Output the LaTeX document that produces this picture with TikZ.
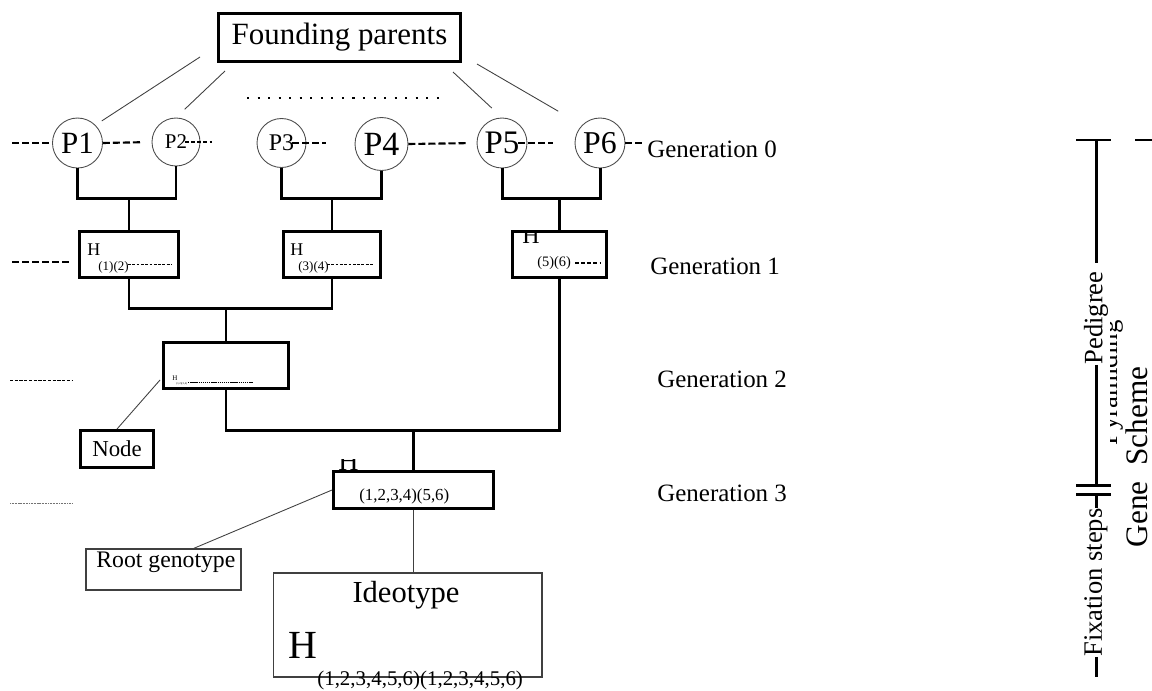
\documentclass[tikz,border=0pt]{standalone}
\usepackage{fontspec}
\setmainfont{Liberation Serif}
\usetikzlibrary{calc}
\newcommand\fsz[1]{\fontsize{#1}{#1}\selectfont}
\begin{document}
\begin{tikzpicture}[x=0.02cm,y=-0.02cm,
  thickline/.style={line width=1.7pt},
  thinline/.style={line width=0.5pt, draw=black!75},
  pcirc/.style={circle, draw=black!70, line width=0.5pt, inner sep=0pt},
  hbox/.style={draw, line width=1.7pt, inner sep=0pt},
  lbox/.style={draw=black!75, line width=0.6pt, inner sep=0pt},
  dashA/.style={line width=1.2pt, dash pattern=on 4pt off 1.7pt},
  dashS/.style={line width=0.9pt, dash pattern=on 2.3pt off 1.2pt},
  dashT/.style={line width=0.5pt, dash pattern=on 1.6pt off 0.85pt},
  dashF/.style={line width=0.5pt, dash pattern=on 1.8pt off 0.9pt},
  dashX/.style={line width=0.3pt, draw=black!55, dash pattern=on 0.6pt off 0.3pt},
  lab/.style={inner sep=0pt, anchor=base west},
  rlab/.style={inner sep=0pt, rotate=90, font=\fsz{15.1pt}},
]
\useasboundingbox (0,0) rectangle (1152,690);

% Founding parents
\node[hbox, minimum width=4.84cm, minimum height=0.96cm, font=\fsz{17.6pt}] (fp) at (339.5,37.5) {Founding parents};

% Generation 0 circles
\node[pcirc, minimum size=1cm, font=\fsz{17.6pt}] (P1) at (77.5,143) {P1};
\node[pcirc, minimum size=0.96cm, font=\fsz{11.9pt}] (P2) at (176,142) {P2};
\node[pcirc, minimum size=0.98cm, font=\fsz{13.6pt}] (P3) at (281.5,143) {P3};
\node[pcirc, minimum size=1.06cm, font=\fsz{19.3pt}] (P4) at (381.5,144) {P4};
\node[pcirc, minimum size=1cm, font=\fsz{18.7pt}] (P5) at (502,143) {P5};
\node[pcirc, minimum size=1cm, font=\fsz{18.1pt}] (P6) at (600,143) {P6};

% lines from founding parents
\coordinate (f1) at (200,57);
\coordinate (f2) at (225,71);
\coordinate (f3) at (453,72);
\coordinate (f4) at (477,64);
\draw[thinline, shorten >=0.15cm] (f1) -- (P1.north east);
\draw[thinline, shorten >=0.24cm] (f2) -- (P2.north);
\draw[thinline, shorten >=0.28cm] (f3) -- (P5.north);
\draw[thinline, shorten >=0.55cm] (f4) -- (P6.north west);
\coordinate (d1) at (247,98);
\coordinate (d2) at (441,98);
\draw[line width=1.2pt, dash pattern=on 1.2pt off 4.8pt] (d1) -- (d2);

% Generation 0 dashes
\draw[dashA] ($(P1.west)+(-40,0)$) -- (P1.west);
\draw[dashA, shorten >=0.18cm] (P1.east) -- (P2.west);
\draw[dashS] ($(P2.center)+(9,0)$) -- ($(P2.center)+(36,0)$);
\draw[dashA] ($(P3.center)+(10.5,0)$) -- ($(P3.center)+(44,0)$);
\draw[dashA, shorten >=0.18cm] (P4.east) -- (P5.west);
\draw[dashA] ($(P5.center)+(16,0)$) -- ($(P5.center)+(51,0)$);
\draw[dashA] (P6.east) -- ($(P6.east)+(17,0)$);
\node[lab, font=\fsz{14.2pt}] (gen0) at (647,157) {Generation 0};

% Generation 1 boxes
\node[hbox, minimum width=1.98cm, minimum height=0.92cm] (g1a) at (129,254.5) {};
\node[hbox, minimum width=1.94cm, minimum height=0.92cm] (g1b) at (332,254.5) {};
\node[hbox, minimum width=1.88cm, minimum height=0.92cm] (g1c) at (559.5,254.5) {};
\node[lab, font=\fsz{10.2pt}] (h1a) at (87,255) {H};
\node[lab, font=\fsz{7.4pt}] (s1a) at (98,270) {(1)(2)};
\draw[dashT] (128,264) -- (172,264);
\node[lab, font=\fsz{10.2pt}] (h1b) at (290,255) {H};
\node[lab, font=\fsz{7.4pt}] (s1b) at (298,270) {(3)(4)};
\draw[dashT] (327,264) -- (373,264);
\begin{scope}
  \clip (515,232) rectangle (545,250);
  \node[lab, font=\fsz{13.6pt}] (h1c) at (522,243) {H};
\end{scope}
\node[lab, font=\fsz{8.2pt}] (s1c) at (537,266) {(5)(6)};
\draw[dashS] (575,263) -- (600,263);
\coordinate (l1a) at (12,262);
\coordinate (l1b) at (72,262);
\draw[dashA] (l1a) -- (l1b);
\node[lab, font=\fsz{14.2pt}] (gen1) at (650,274) {Generation 1};

% brackets gen0 -> gen1
\draw[thickline] (P1.south) |- ($(g1a.north)+(0,-32)$) -| (P2.south);
\draw[thickline] (g1a.north) -- ++(0,-32);
\draw[thickline] (P3.south) |- ($(g1b.north)+(0,-32)$) -| (P4.south);
\draw[thickline] (g1b.north) -- ++(0,-32);
\draw[thickline] (P5.south) |- ($(g1c.north)+(0,-32)$) -| (P6.south);
\draw[thickline] (g1c.north) -- ++(0,-32);

% Generation 2
\node[hbox, minimum width=2.5cm, minimum height=0.92cm] (g2) at (226,365.5) {};
\node[lab, font=\fsz{4pt}] (h2) at (172,380) {H};
\node[lab, font=\fsz{1.6pt}] (s2) at (176,384) {(1,2)(3,4)};
\draw[line width=0.3pt, dash pattern=on 0.8pt off 0.4pt] (188,382) -- (253,382);
\draw[thickline] (g1a.south) |- ($(g2.north)+(0,-33)$) -| (g1b.south);
\draw[thickline] (g2.north) -- ++(0,-33);
\coordinate (l2a) at (10,380);
\coordinate (l2b) at (73,380);
\draw[dashF] (l2a) -- (l2b);
\node[lab, font=\fsz{14.2pt}] (gen2) at (657,387) {Generation 2};

% Node
\node[hbox, minimum width=1.46cm, minimum height=0.74cm, font=\fsz{13pt}] (nd) at (117,449) {Node};
\draw[thinline] (nd.north) -- ($(g2.south west)+(-2,-10)$);

% Generation 3
\node[hbox, minimum width=3.2cm, minimum height=0.74cm] (g3) at (413.5,490) {};
\begin{scope}
  \clip (330,459) rectangle (372,475);
  \node[lab, font=\fsz{15.9pt}] (h3) at (338,470) {H};
\end{scope}
\node[lab, font=\fsz{9.6pt}] (s3) at (359,500) {(1,2,3,4)(5,6)};
\draw[thickline] (g2.south) |- ($(g3.north)+(0,-40)$) -| (g1c.south);
\draw[thickline] (g3.north) -- ++(0,-40);
\coordinate (l3a) at (10,503);
\coordinate (l3b) at (72,503);
\draw[dashX] (l3a) -- (l3b);
\node[lab, font=\fsz{14.2pt}] (gen3) at (657,501) {Generation 3};

% Root genotype
\node[lbox, minimum width=3.1cm, minimum height=0.82cm] (root) at (163.5,569.5) {};
\node[lab, font=\fsz{13.5pt}] (roott) at (96,567) {Root genotype};
\draw[thinline] ($(root.north)+(30,0)$) -- (g3.west);

% Ideotype
\node[lbox, minimum width=5.38cm, minimum height=2.08cm] (ideo) at (407.5,625) {};
\node[inner sep=0pt, anchor=base, font=\fsz{17.4pt}] (ideot) at (406,602) {Ideotype};
\node[lab, font=\fsz{22.7pt}] (hI) at (288,658) {H};
\node[lab, font=\fsz{11.9pt}] (sI) at (317,685) {(1,2,3,4,5,6)(1,2,3,4,5,6)};
\draw[thinline] (g3.south) -- (g3.south |- ideo.north);

% Right side scale
\coordinate (rt) at (1096,140);
\coordinate (rb1) at (1096,485);
\coordinate (rb2) at (1096,494);
\coordinate (rend) at (1096,677);
\node[rlab] (ped) at (1096,318) {Pedigree};
\node[rlab] (fix) at (1096,582.5) {Fixation steps};
\draw[thickline] (1076,140) -- (1111,140);
\draw[thickline] (1135,140) -- (1153,140);
\draw[thickline] (rt) -- ($(ped.east)+(0,-8)$);
\draw[thickline] (ped.west) -- (rb1);
\draw[thickline] (1076,485) -- (1111,485);
\draw[thickline] (1076,494) -- (1111,494);
\draw[thickline] (rb2) -- (fix.east);
\draw[thickline] (fix.west) -- (rend);
\begin{scope}
  \clip (1110,300) rectangle (1130,460);
  \node[inner sep=0pt, rotate=90, anchor=base, font=\fsz{15.3pt}] (pyr) at (1117,383) {Pyramiding};
\end{scope}
\node[inner sep=0pt, rotate=90, anchor=base, font=\fsz{17.8pt}] (gs) at (1147,457) {Gene\ \ Scheme};
\end{tikzpicture}
\end{document}
